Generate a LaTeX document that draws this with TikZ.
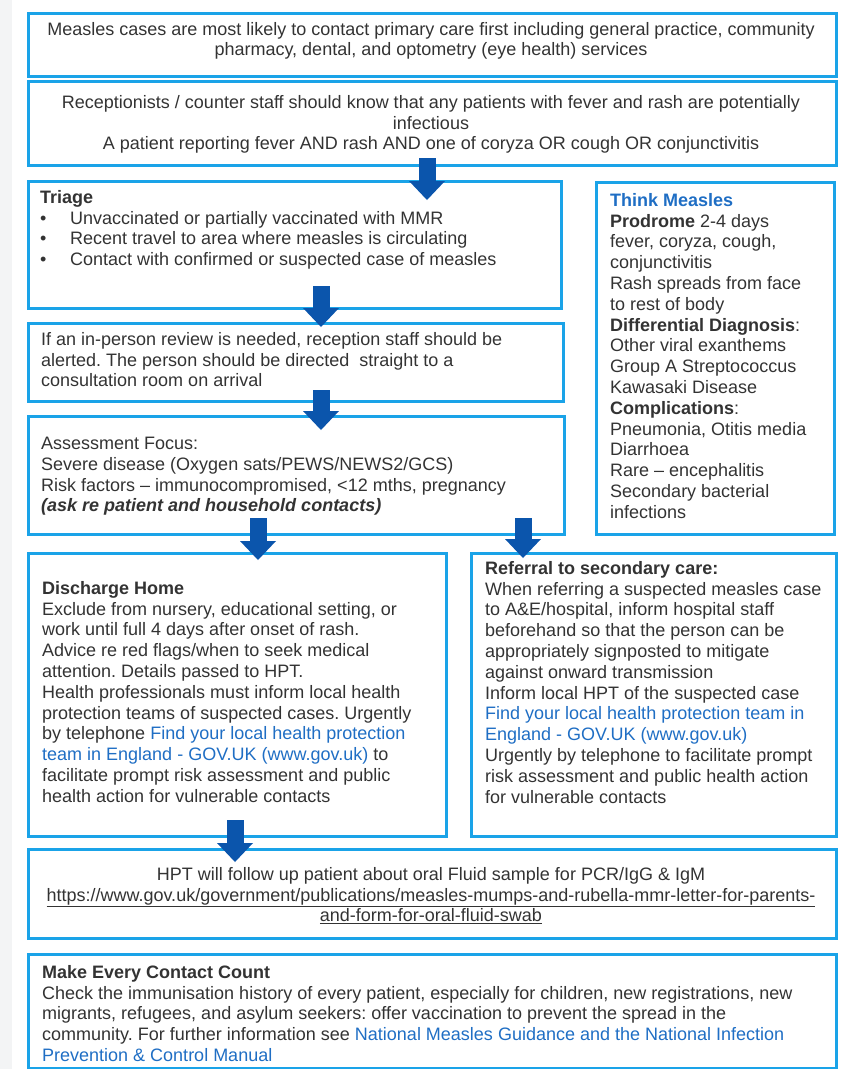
\documentclass[tikz,border=0pt]{standalone}
\usepackage{fontspec}
\setmainfont{Liberation Sans}
\usepackage{xcolor}
\usetikzlibrary{arrows.meta}
\usetikzlibrary{calc}
\frenchspacing

\definecolor{boxblue}{HTML}{1AA3E8}
\definecolor{arrowblue}{HTML}{0B55AC}
\definecolor{linkblue}{HTML}{1F6EC4}
\definecolor{txtgrey}{HTML}{333333}
\definecolor{stripgrey}{HTML}{F3F4F5}

\newcommand{\lnk}[1]{\textcolor{linkblue}{#1}}
\newcommand{\bul}{\makebox[30pt][l]{\textbullet}}

\tikzset{
  flowbox/.style={rectangle,draw=boxblue,line width=3.2pt,inner sep=0pt,anchor=north west},
  boxtext/.style={font=\fontsize{18}{20.8}\selectfont,text=txtgrey,inner sep=0pt,execute at begin node=\strut},
  fatarrow/.style={draw=arrowblue,line width=17pt,-{Triangle[width=36pt,length=19pt,line width=0pt]}}
}

\begin{document}
\begin{tikzpicture}[x=1pt,y=-1pt]
  \useasboundingbox (0,0) rectangle (843,1069);
  \fill[stripgrey] (0,0) rectangle (12,1069);

      \begin{scope}[every node/.style={flowbox}]
        \node[minimum width=808pt,minimum height=63pt] (box_prim) at (27,12) {};
        \node[minimum width=808pt,minimum height=84pt] (box_rec) at (27,80) {};

        \node[minimum width=533pt,minimum height=127pt] (box_tri) at (27,180) {};
        \node[minimum width=238pt,minimum height=352pt] (box_think) at (595,181) {};
        \node[minimum width=535pt,minimum height=78pt] (box_inp) at (27,322) {};
        \node[minimum width=536pt,minimum height=118pt] (box_ass) at (27,415) {};

        \node[minimum width=418pt,minimum height=283pt] (box_dis) at (27,552) {};
        \node[minimum width=365pt,minimum height=283pt] (box_ref) at (470,552) {};

        \node[minimum width=808pt,minimum height=89pt] (box_hpt) at (27,848) {};
        \node[minimum width=808pt,minimum height=114pt] (box_mecc) at (27,953) {};
      \end{scope}

      % centred texts
      \begin{scope}[every node/.style={boxtext,anchor=north,align=center}]
        \node[] (txt_prim) at (431,21.8) {Measles cases are most likely to contact primary care first including general practice, community\\
          pharmacy, dental, and optometry (eye health) services};
        \node[] (txt_rec) at (431,95) {Receptionists / counter staff should know that any patients with fever and rash are potentially\\
          infectious\\
          A patient reporting fever AND rash AND one of coryza OR cough OR conjunctivitis};
        \node[] (txt_hpt) at (431,867) {HPT will follow up patient about oral Fluid sample for PCR/IgG \& IgM\\
          \underline{https://www.gov.uk/government/publications/measles-mumps-and-rubella-mmr-letter-for-parents-}\\
          \underline{and-form-for-oral-fluid-swab}};
      \end{scope}

      % left aligned texts
      \begin{scope}[every node/.style={boxtext,anchor=north west,align=left}]
        \node[] (txt_tri) at (40,190) {\textbf{Triage}\\
          \bul Unvaccinated or partially vaccinated with MMR\\
          \bul Recent travel to area where measles is circulating\\
          \bul Contact with confirmed or suspected case of measles};
        \node[] (txt_think) at (610,193) {\lnk{\textbf{Think Measles}}\\
          \textbf{Prodrome} 2-4 days\\
          fever, coryza, cough,\\
          conjunctivitis\\
          Rash spreads from face\\
          to rest of body\\
          \textbf{Differential Diagnosis}:\\
          Other viral exanthems\\
          Group A Streptococcus\\
          Kawasaki Disease\\
          \textbf{Complications}:\\
          Pneumonia, Otitis media\\
          Diarrhoea\\
          Rare – encephalitis\\
          Secondary bacterial\\
          infections};
        \node[] (txt_inp) at (41,332) {If an in-person review is needed, reception staff should be\\
          alerted. The person should be directed\ \ straight to a\\
          consultation room on arrival};
        \node[] (txt_ass) at (41,437) {Assessment Focus:\\
          Severe disease (Oxygen sats/PEWS/NEWS2/GCS)\\
          Risk factors – immunocompromised, <12 mths, pregnancy\\
          \textbf{\textit{(ask re patient and household contacts)}}};
        \node[] (txt_dis) at (42,581) {\textbf{Discharge Home}\\
          Exclude from nursery, educational setting, or\\
          work until full 4 days after onset of rash.\\
          Advice re red flags/when to seek medical\\
          attention. Details passed to HPT.\\
          Health professionals must inform local health\\
          protection teams of suspected cases. Urgently\\
          by telephone \lnk{Find your local health protection}\\
          \lnk{team in England - GOV.UK (www.gov.uk)} to\\
          facilitate prompt risk assessment and public\\
          health action for vulnerable contacts};
        \node[] (txt_ref) at (485,561) {\textbf{Referral to secondary care:}\\
          When referring a suspected measles case\\
          to A\&E/hospital, inform hospital staff\\
          beforehand so that the person can be\\
          appropriately signposted to mitigate\\
          against onward transmission\\
          Inform local HPT of the suspected case\\
          \lnk{Find your local health protection team in}\\
          \lnk{England - GOV.UK (www.gov.uk)}\\
          Urgently by telephone to facilitate prompt\\
          risk assessment and public health action\\
          for vulnerable contacts};
        \node[] (txt_mecc) at (42,965) {\textbf{Make Every Contact Count}\\
          Check the immunisation history of every patient, especially for children, new registrations, new\\
          migrants, refugees, and asylum seekers: offer vaccination to prevent the spread in the\\
          community. For further information see \lnk{National Measles Guidance and the National Infection}\\
          \lnk{Prevention \& Control Manual}};
      \end{scope}

      % arrow columns
      \coordinate (col_a) at (427,0);
      \coordinate (col_b) at (321,0);
      \coordinate (col_c) at (258,0);
      \coordinate (col_d) at (523,0);
      \coordinate (col_e) at (235,0);

      \begin{scope}[fatarrow]
        \draw ($(box_rec.south -| col_a)+(0,-9)$) -- ($(box_tri.north -| col_a)+(0,20)$);
        \draw ($(box_tri.south -| col_b)+(0,-24)$) -- ($(box_inp.north -| col_b)+(0,5)$);
        \draw ($(box_inp.south -| col_b)+(0,-13)$) -- ($(box_ass.north -| col_b)+(0,15)$);
        \draw ($(box_ass.south -| col_c)+(0,-18)$) -- ($(box_dis.north -| col_c)+(0,8)$);
        \draw ($(box_ass.south -| col_d)+(0,-18)$) -- ($(box_ref.north -| col_d)+(0,6)$);
        \draw ($(box_dis.south -| col_e)+(0,-18)$) -- ($(box_hpt.north -| col_e)+(0,14)$);
      \end{scope}
\end{tikzpicture}
\end{document}
